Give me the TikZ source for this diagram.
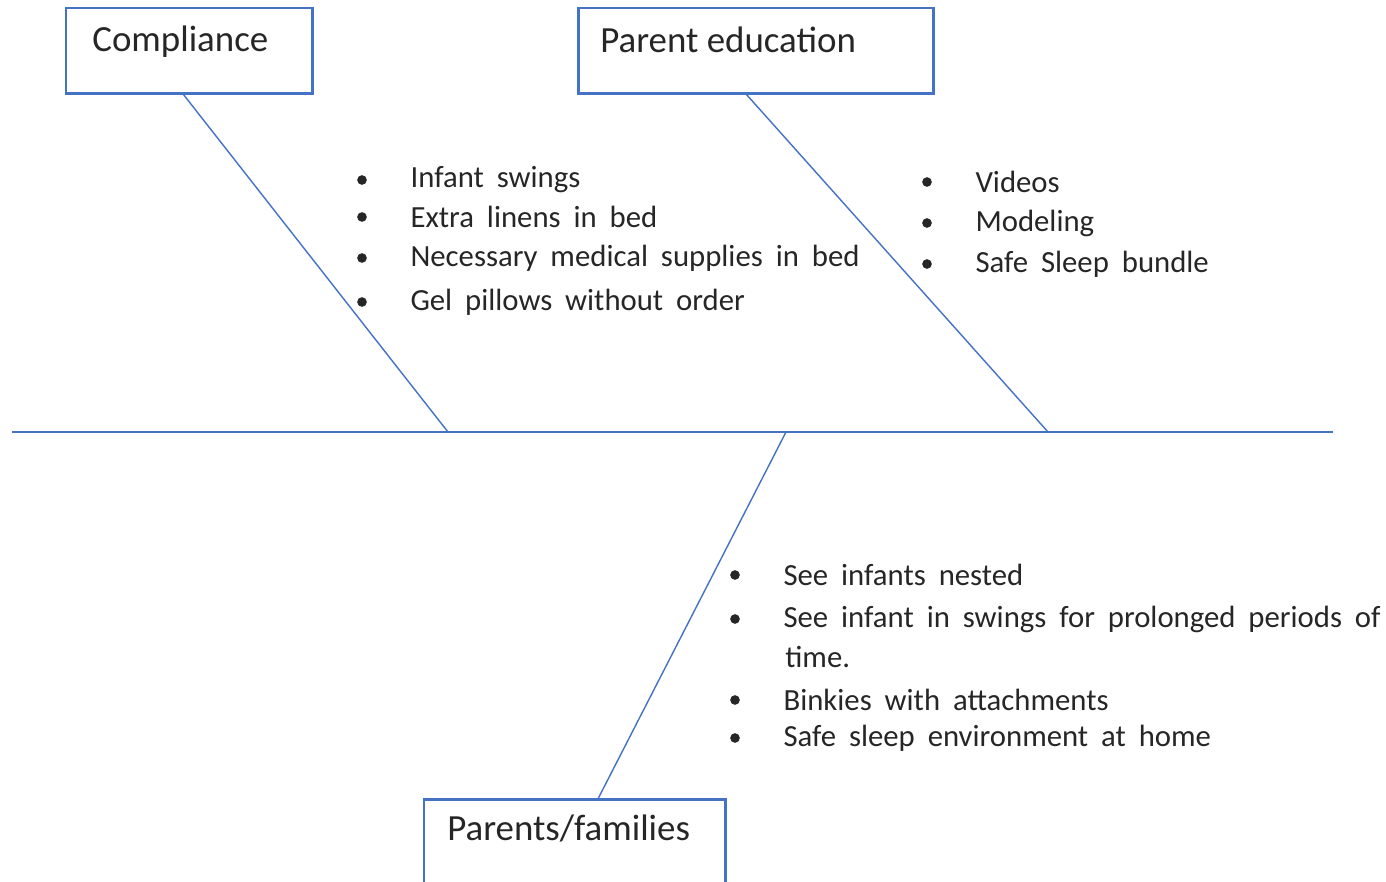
\documentclass[tikz,border=0pt]{standalone}
\usepackage{fontspec}
\setmainfont{Carlito}
\usetikzlibrary{positioning,calc}
\definecolor{fishblue}{HTML}{4472C4}
\definecolor{inktext}{HTML}{262626}
\newcommand\wideitems{\spaceskip=0.42em\relax}
\tikzset{
  causebox/.style={draw=fishblue,line width=1.7pt,outer sep=0pt,inner sep=0pt,anchor=north west},
  causelabel/.style={text=inktext,font=\fontsize{21}{25}\selectfont,anchor=west,inner sep=0pt},
  branch/.style={draw=fishblue,line width=0.8pt},
  spine/.style={draw=fishblue,line width=1.3pt},
  dot/.style={circle,fill=inktext,inner sep=0pt,minimum size=5.5pt},
  item/.style={text=inktext,font=\fontsize{17.5}{21}\selectfont\wideitems,inner sep=0pt},
}
\begin{document}
\begin{tikzpicture}[x=0.02cm,y=-0.02cm]
    \useasboundingbox (0,0) rectangle (1386,882);
    % spine
    \coordinate (tail) at (12,432);
    \coordinate (head) at (1333,432);
    \draw[spine] (tail) -- (head);
    % cause boxes
    \node[causebox,minimum width=4.94cm,minimum height=1.72cm] (compl) at (66,8) {};
    \node[causelabel] (complT) at (92,42) {Compliance};
    \node[causebox,minimum width=7.12cm,minimum height=1.72cm] (pared) at (578,8) {};
    \node[causelabel] (paredT) at (600,40) {Parent education};
    \node[causebox,minimum width=6.04cm,minimum height=1.82cm] (pafam) at (424,799) {};
    \node[causelabel] (pafamT) at (447,828) {Parents/families};
    % branches
    \coordinate (complJ) at (448,432);
    \coordinate (paredJ) at (1048,432);
    \coordinate (pafamJ) at (786,432);
    \draw[branch] ($(compl.south west)!0.474!(compl.south east)$) -- (complJ);
    \draw[branch] ($(pared.south west)!0.472!(pared.south east)$) -- (paredJ);
    \draw[branch] ($(pafam.north west)!0.576!(pafam.north east)$) -- (pafamJ);
    % items
    \foreach \y/\t [count=\i] in {180/Infant swings,217/Extra linens in bed,258/Necessary medical supplies in bed,302/Gel pillows without order}{
      \node[dot] (cb\i) at (362,\y) {};
      \node[item,right=0.86cm of cb\i] (ct\i) {\t};
    }
    \foreach \y/\t [count=\i] in {182/Videos,223/Modeling,264/Safe Sleep bundle}{
      \node[dot] (pb\i) at (927,\y) {};
      \node[item,right=0.86cm of pb\i] (pt\i) {\t};
    }
    \foreach \y/\t [count=\i] in {575/See infants nested,619/See infant in swings for prolonged periods of,700/Binkies with attachments,738/Safe sleep environment at home}{
      \node[dot] (fb\i) at (735,\y) {};
      \node[item,right=0.86cm of fb\i] (ft\i) {\t};
    }
    \node[item,anchor=west] (ft2b) at (785,657) {time.};
\end{tikzpicture}
\end{document}
